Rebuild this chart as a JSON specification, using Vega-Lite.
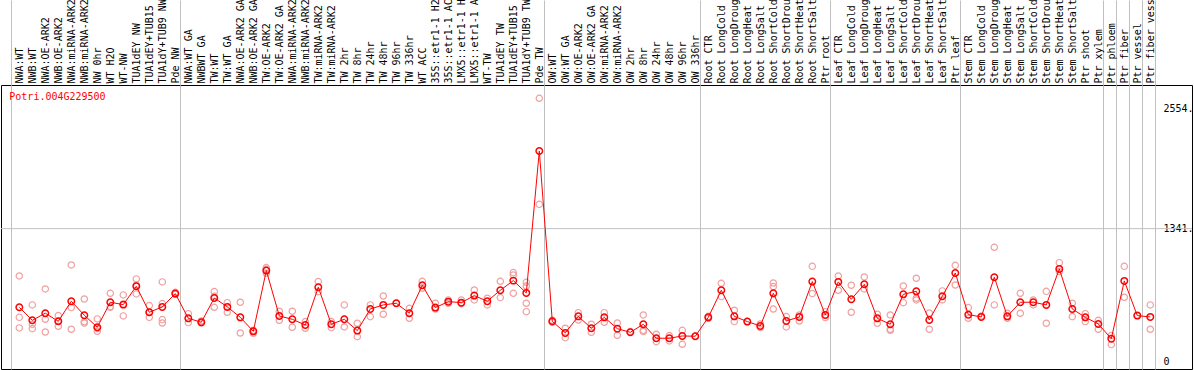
{
  "$schema": "https://vega.github.io/schema/vega-lite/v6.json",
  "autosize": "none",
  "width": 1191,
  "height": 284,
  "padding": {"left": 1, "top": 85, "right": 2, "bottom": 1},
  "background": "white",
  "config": {
    "view": {"stroke": "black", "strokeWidth": 1},
    "font": "DejaVu Sans Mono"
  },
  "datasets": {
    "means": [
      {"s":"NWA:WT","v":548},{"s":"NWB:WT","v":417},{"s":"NWA:OE-ARK2","v":488},{"s":"NWB:OE-ARK2","v":407},
      {"s":"NWA:miRNA-ARK2","v":609},{"s":"NWB:miRNA-ARK2","v":468},{"s":"NW 0hr","v":347},{"s":"WT H2O","v":599},
      {"s":"WT-NW","v":575},{"s":"TUA1dEY NW","v":760},{"s":"TUA1dEY+TUB15 NW","v":498},{"s":"TUA1dY+TUB9 NW","v":552},
      {"s":"Pde NW","v":686},
      {"s":"NWA:WT GA","v":437},{"s":"NWBWT GA","v":397},{"s":"TW:WT","v":642},{"s":"TW:WT GA","v":552},
      {"s":"NWA:OE-ARK2 GA","v":447},{"s":"NWB:OE-ARK2 GA","v":306},{"s":"TW:OE-ARK2","v":918},{"s":"TW:OE-ARK2 GA","v":461},
      {"s":"NWA:miRNA-ARK2 GA","v":427},{"s":"NWB:miRNA-ARK2 GA","v":370},{"s":"TW:miRNA-ARK2","v":750},{"s":"TW:miRNA-ARK2 ","v":377},
      {"s":"TW 2hr","v":427},{"s":"TW 8hr","v":313},{"s":"TW 24hr","v":531},{"s":"TW 48hr","v":572},
      {"s":"TW 96hr","v":589},{"s":"TW 336hr","v":488},{"s":"WT ACC","v":770},{"s":"35S::etr1-1 H2O","v":545},
      {"s":"35S::etr1-1 ACC","v":605},{"s":"LMX5::etr1-1 H2O","v":595},{"s":"LMX5::etr1-1 ACC","v":666},{"s":"WT-TW","v":609},
      {"s":"TUA1dEY TW","v":720},{"s":"TUA1dEY+TUB15 TW","v":817},{"s":"TUA1dY+TUB9 TW","v":693},{"s":"Pde TW","v":2124},
      {"s":"OW:WT","v":407},{"s":"OW:WT GA","v":290},{"s":"OW:OE-ARK2","v":457},{"s":"OW:OE-ARK2 GA","v":337},
      {"s":"OW:miRNA-ARK2","v":447},{"s":"OW:miRNA-ARK2 ","v":333},{"s":"OW 2hr","v":296},{"s":"OW 8hr","v":377},
      {"s":"OW 24hr","v":236},{"s":"OW 48hr","v":236},{"s":"OW 96hr","v":259},{"s":"OW 336hr","v":256},
      {"s":"Root CTR","v":447},{"s":"Root LongCold","v":720},{"s":"Root LongDrought","v":457},{"s":"Root LongHeat","v":404},
      {"s":"Root LongSalt","v":360},{"s":"Root ShortCold","v":689},{"s":"Root ShortDrought","v":410},{"s":"Root ShortHeat","v":451},
      {"s":"Root ShortSalt","v":807},{"s":"Ptr root","v":471},
      {"s":"Leaf CTR","v":804},{"s":"Leaf LongCold","v":629},{"s":"Leaf LongDrought","v":780},{"s":"Leaf LongHeat","v":437},
      {"s":"Leaf LongSalt","v":377},{"s":"Leaf ShortCold","v":679},{"s":"Leaf ShortDrought","v":709},{"s":"Leaf ShortHeat","v":420},
      {"s":"Leaf ShortSalt","v":659},{"s":"Ptr leaf","v":894},
      {"s":"Stem CTR","v":474},{"s":"Stem LongCold","v":451},{"s":"Stem LongDrought","v":851},{"s":"Stem LongHeat","v":457},
      {"s":"Stem LongSalt","v":599},{"s":"Stem ShortCold","v":599},{"s":"Stem ShortDrought","v":572},{"s":"Stem ShortHeat","v":935},
      {"s":"Stem ShortSalt","v":531},{"s":"Ptr shoot","v":447},{"s":"Ptr xylem","v":380},{"s":"Ptr phloem","v":232},
      {"s":"Ptr fiber","v":814},{"s":"Ptr vessel","v":464},{"s":"Ptr fiber vessel","v":451}
    ],
    "reps": [
      {"s":"NWA:WT","v":864},{"s":"NWA:WT","v":447},{"s":"NWA:WT","v":340},
      {"s":"NWB:WT","v":572},{"s":"NWB:WT","v":377},{"s":"NWB:WT","v":333},
      {"s":"NWA:OE-ARK2","v":733},{"s":"NWA:OE-ARK2","v":427},{"s":"NWA:OE-ARK2","v":299},
      {"s":"NWB:OE-ARK2","v":464},{"s":"NWB:OE-ARK2","v":407},{"s":"NWB:OE-ARK2","v":357},
      {"s":"NWA:miRNA-ARK2","v":975},{"s":"NWA:miRNA-ARK2","v":545},{"s":"NWA:miRNA-ARK2","v":327},
      {"s":"NWB:miRNA-ARK2","v":632},{"s":"NWB:miRNA-ARK2","v":404},{"s":"NWB:miRNA-ARK2","v":390},
      {"s":"NW 0hr","v":431},{"s":"NW 0hr","v":333},{"s":"NW 0hr","v":306},
      {"s":"WT H2O","v":689},{"s":"WT H2O","v":555},{"s":"WT H2O","v":548},
      {"s":"WT-NW","v":673},{"s":"WT-NW","v":461},{"s":"WT-NW","v":582},
      {"s":"TUA1dEY NW","v":834},{"s":"TUA1dEY NW","v":683},{"s":"TUA1dEY NW","v":773},
      {"s":"TUA1dEY+TUB15 NW","v":565},{"s":"TUA1dEY+TUB15 NW","v":447},{"s":"TUA1dEY+TUB15 NW","v":498},
      {"s":"TUA1dY+TUB9 NW","v":804},{"s":"TUA1dY+TUB9 NW","v":585},{"s":"TUA1dY+TUB9 NW","v":424},{"s":"TUA1dY+TUB9 NW","v":390},
      {"s":"Pde NW","v":699},{"s":"Pde NW","v":679},
      {"s":"NWA:WT GA","v":484},{"s":"NWA:WT GA","v":394},
      {"s":"NWBWT GA","v":410},{"s":"NWBWT GA","v":390},
      {"s":"TW:WT","v":706},{"s":"TW:WT","v":548},{"s":"TW:WT","v":659},
      {"s":"TW:WT GA","v":595},{"s":"TW:WT GA","v":498},
      {"s":"NWA:OE-ARK2 GA","v":599},{"s":"NWA:OE-ARK2 GA","v":289},
      {"s":"NWB:OE-ARK2 GA","v":316},{"s":"NWB:OE-ARK2 GA","v":286},
      {"s":"TW:OE-ARK2","v":948},{"s":"TW:OE-ARK2","v":931},{"s":"TW:OE-ARK2","v":891},
      {"s":"TW:OE-ARK2 GA","v":508},{"s":"TW:OE-ARK2 GA","v":417},
      {"s":"NWA:miRNA-ARK2 GA","v":508},{"s":"NWA:miRNA-ARK2 GA","v":347},
      {"s":"NWB:miRNA-ARK2 GA","v":404},{"s":"NWB:miRNA-ARK2 GA","v":337},
      {"s":"TW:miRNA-ARK2","v":807},{"s":"TW:miRNA-ARK2","v":706},
      {"s":"TW:miRNA-ARK2 ","v":404},{"s":"TW:miRNA-ARK2 ","v":343},
      {"s":"TW 2hr","v":572},{"s":"TW 2hr","v":350},
      {"s":"TW 8hr","v":387},{"s":"TW 8hr","v":252},
      {"s":"TW 24hr","v":572},{"s":"TW 24hr","v":454},
      {"s":"TW 48hr","v":662},{"s":"TW 48hr","v":478},
      {"s":"TW 96hr","v":589},
      {"s":"TW 336hr","v":538},{"s":"TW 336hr","v":437},
      {"s":"WT ACC","v":810},{"s":"WT ACC","v":740},
      {"s":"35S::etr1-1 H2O","v":589},{"s":"35S::etr1-1 H2O","v":531},
      {"s":"35S::etr1-1 ACC","v":622},{"s":"35S::etr1-1 ACC","v":589},
      {"s":"LMX5::etr1-1 H2O","v":622},{"s":"LMX5::etr1-1 H2O","v":585},
      {"s":"LMX5::etr1-1 ACC","v":723},{"s":"LMX5::etr1-1 ACC","v":622},
      {"s":"WT-TW","v":639},{"s":"WT-TW","v":572},
      {"s":"TUA1dEY TW","v":810},{"s":"TUA1dEY TW","v":646},
      {"s":"TUA1dEY+TUB15 TW","v":898},{"s":"TUA1dEY+TUB15 TW","v":874},{"s":"TUA1dEY+TUB15 TW","v":689},
      {"s":"TUA1dY+TUB9 TW","v":800},{"s":"TUA1dY+TUB9 TW","v":763},{"s":"TUA1dY+TUB9 TW","v":589},{"s":"TUA1dY+TUB9 TW","v":504},
      {"s":"Pde TW","v":2655},{"s":"Pde TW","v":1586},
      {"s":"OW:WT","v":417},{"s":"OW:WT","v":397},
      {"s":"OW:WT GA","v":337},{"s":"OW:WT GA","v":242},
      {"s":"OW:OE-ARK2","v":494},{"s":"OW:OE-ARK2","v":420},
      {"s":"OW:OE-ARK2 GA","v":377},{"s":"OW:OE-ARK2 GA","v":296},
      {"s":"OW:miRNA-ARK2","v":494},{"s":"OW:miRNA-ARK2","v":397},
      {"s":"OW:miRNA-ARK2 ","v":390},{"s":"OW:miRNA-ARK2 ","v":266},
      {"s":"OW 2hr","v":303},
      {"s":"OW 8hr","v":471},{"s":"OW 8hr","v":316},{"s":"OW 8hr","v":303},
      {"s":"OW 24hr","v":276},{"s":"OW 24hr","v":202},
      {"s":"OW 48hr","v":263},{"s":"OW 48hr","v":209},
      {"s":"OW 96hr","v":316},{"s":"OW 96hr","v":175},
      {"s":"OW 336hr","v":256},
      {"s":"Root CTR","v":457},{"s":"Root CTR","v":437},
      {"s":"Root LongCold","v":790},{"s":"Root LongCold","v":656},
      {"s":"Root LongDrought","v":518},{"s":"Root LongDrought","v":404},
      {"s":"Root LongHeat","v":404},
      {"s":"Root LongSalt","v":380},{"s":"Root LongSalt","v":343},
      {"s":"Root ShortCold","v":793},{"s":"Root ShortCold","v":757},{"s":"Root ShortCold","v":531},
      {"s":"Root ShortDrought","v":454},{"s":"Root ShortDrought","v":350},
      {"s":"Root ShortHeat","v":471},{"s":"Root ShortHeat","v":410},
      {"s":"Root ShortSalt","v":961},{"s":"Root ShortSalt","v":686},
      {"s":"Ptr root","v":504},{"s":"Ptr root","v":444},
      {"s":"Leaf CTR","v":864},{"s":"Leaf CTR","v":720},
      {"s":"Leaf LongCold","v":770},{"s":"Leaf LongCold","v":498},
      {"s":"Leaf LongDrought","v":854},{"s":"Leaf LongDrought","v":733},
      {"s":"Leaf LongHeat","v":478},{"s":"Leaf LongHeat","v":387},
      {"s":"Leaf LongSalt","v":471},{"s":"Leaf LongSalt","v":327},{"s":"Leaf LongSalt","v":316},
      {"s":"Leaf ShortCold","v":763},{"s":"Leaf ShortCold","v":595},
      {"s":"Leaf ShortDrought","v":841},{"s":"Leaf ShortDrought","v":639},{"s":"Leaf ShortDrought","v":622},
      {"s":"Leaf ShortHeat","v":491},{"s":"Leaf ShortHeat","v":327},
      {"s":"Leaf ShortSalt","v":713},{"s":"Leaf ShortSalt","v":622},
      {"s":"Ptr leaf","v":971},{"s":"Ptr leaf","v":773},
      {"s":"Stem CTR","v":545},{"s":"Stem CTR","v":437},
      {"s":"Stem LongCold","v":461},
      {"s":"Stem LongDrought","v":1153},{"s":"Stem LongDrought","v":572},
      {"s":"Stem LongHeat","v":488},{"s":"Stem LongHeat","v":437},
      {"s":"Stem LongSalt","v":689},{"s":"Stem LongSalt","v":488},
      {"s":"Stem ShortCold","v":622},{"s":"Stem ShortCold","v":572},
      {"s":"Stem ShortDrought","v":709},{"s":"Stem ShortDrought","v":387},
      {"s":"Stem ShortHeat","v":998},{"s":"Stem ShortHeat","v":908},
      {"s":"Stem ShortSalt","v":589},{"s":"Stem ShortSalt","v":454},
      {"s":"Ptr shoot","v":484},{"s":"Ptr shoot","v":404},
      {"s":"Ptr xylem","v":417},{"s":"Ptr xylem","v":327},
      {"s":"Ptr phloem","v":263},{"s":"Ptr phloem","v":172},
      {"s":"Ptr fiber","v":961},{"s":"Ptr fiber","v":649},
      {"s":"Ptr vessel","v":471},
      {"s":"Ptr fiber vessel","v":572},{"s":"Ptr fiber vessel","v":327}
    ],
    "label": [{"t": "Potri.004G229500", "s": "NWA:WT", "v": 2665}],
    "hgrid": [{"v": 1341}]
  },
  "encoding": {
    "x": {
      "field": "s",
      "type": "nominal",
      "scale": {
        "domain": ["NWA:WT","NWB:WT","NWA:OE-ARK2","NWB:OE-ARK2","NWA:miRNA-ARK2","NWB:miRNA-ARK2","NW 0hr","WT H2O","WT-NW","TUA1dEY NW","TUA1dEY+TUB15 NW","TUA1dY+TUB9 NW","Pde NW",
          "NWA:WT GA","NWBWT GA","TW:WT","TW:WT GA","NWA:OE-ARK2 GA","NWB:OE-ARK2 GA","TW:OE-ARK2","TW:OE-ARK2 GA","NWA:miRNA-ARK2 GA","NWB:miRNA-ARK2 GA","TW:miRNA-ARK2","TW:miRNA-ARK2 ","TW 2hr","TW 8hr","TW 24hr","TW 48hr","TW 96hr","TW 336hr","WT ACC","35S::etr1-1 H2O","35S::etr1-1 ACC","LMX5::etr1-1 H2O","LMX5::etr1-1 ACC","WT-TW","TUA1dEY TW","TUA1dEY+TUB15 TW","TUA1dY+TUB9 TW","Pde TW",
          "OW:WT","OW:WT GA","OW:OE-ARK2","OW:OE-ARK2 GA","OW:miRNA-ARK2","OW:miRNA-ARK2 ","OW 2hr","OW 8hr","OW 24hr","OW 48hr","OW 96hr","OW 336hr",
          "Root CTR","Root LongCold","Root LongDrought","Root LongHeat","Root LongSalt","Root ShortCold","Root ShortDrought","Root ShortHeat","Root ShortSalt","Ptr root",
          "Leaf CTR","Leaf LongCold","Leaf LongDrought","Leaf LongHeat","Leaf LongSalt","Leaf ShortCold","Leaf ShortDrought","Leaf ShortHeat","Leaf ShortSalt","Ptr leaf",
          "Stem CTR","Stem LongCold","Stem LongDrought","Stem LongHeat","Stem LongSalt","Stem ShortCold","Stem ShortDrought","Stem ShortHeat","Stem ShortSalt","Ptr shoot","Ptr xylem",
          "Ptr phloem","Ptr fiber","Ptr vessel","Ptr fiber vessel","END"],
        "range": [11.8, 1168.8],
        "paddingInner": 0,
        "paddingOuter": 0
      },
      "axis": {
        "orient": "top",
        "title": null,
        "domain": false,
        "tickBand": "center",
        "tickOffset": -8,
        "labelAngle": -90,
        "labelAlign": "left",
        "labelBaseline": "middle",
        "labelOffset": 8,
        "labelPadding": -83,
        "labelFont": "DejaVu Sans Mono",
        "labelFontSize": 10,
        "labelColor": "black",
        "labelLimit": 0,
        "labelOverlap": false,
        "labelExpr": "datum.value == 'END' ? '' : datum.value",
        "tickSize": 85,
        "tickColor": "#c0c0c0",
        "tickWidth": 1,
        "tickOpacity": {"condition": {"test": "indexof(['NWA:WT','NWA:WT GA','OW:WT','Root CTR','Leaf CTR','Stem CTR','Ptr phloem','Ptr fiber','Ptr vessel','Ptr fiber vessel','END'], datum.value) >= 0", "value": 1}, "value": 0},
        "grid": true,
        "gridColor": "#c0c0c0",
        "gridWidth": 1,
        "gridOpacity": {"condition": {"test": "indexof(['NWA:WT','NWA:WT GA','OW:WT','Root CTR','Leaf CTR','Stem CTR','Ptr phloem','Ptr fiber','Ptr vessel','Ptr fiber vessel','END'], datum.value) >= 0", "value": 1}, "value": 0}
      }
    },
    "y": {
      "field": "v",
      "type": "quantitative",
      "scale": {"domain": [-74, 2789], "nice": false, "zero": false},
      "axis": {
        "orient": "right",
        "offset": -29,
        "title": null,
        "values": [0, 1341, 2554],
        "labelExpr": "datum.value == 0 ? '0' : datum.value + '.'",
        "domain": false,
        "ticks": false,
        "tickSize": 0,
        "labelPadding": 0,
        "labelAlign": "left",
        "labelBaseline": "middle",
        "labelFont": "DejaVu Sans Mono",
        "labelFontSize": 10,
        "labelColor": "black",
        "grid": false
      }
    }
  },
  "layer": [
    {
      "data": {"name": "hgrid"},
      "mark": {"type": "rule", "color": "#c0c0c0", "strokeWidth": 1},
      "encoding": {"x": null}
    },
    {
      "data": {"name": "reps"},
      "mark": {"type": "point", "shape": "circle", "filled": false, "stroke": "#f0a0a0", "strokeWidth": 1.2, "size": 40, "opacity": 1}
    },
    {
      "data": {"name": "means"},
      "mark": {"type": "line", "color": "#ff0000", "strokeWidth": 1}
    },
    {
      "data": {"name": "means"},
      "mark": {"type": "point", "shape": "circle", "filled": false, "stroke": "#ff0000", "strokeWidth": 1.5, "size": 42, "opacity": 1}
    },
    {
      "data": {"name": "label"},
      "mark": {"type": "text", "align": "left", "baseline": "middle", "dx": -10, "font": "DejaVu Sans Mono", "fontSize": 10, "color": "#ff0000"},
      "encoding": {
        "text": {"field": "t", "type": "nominal"}
      }
    }
  ]
}
